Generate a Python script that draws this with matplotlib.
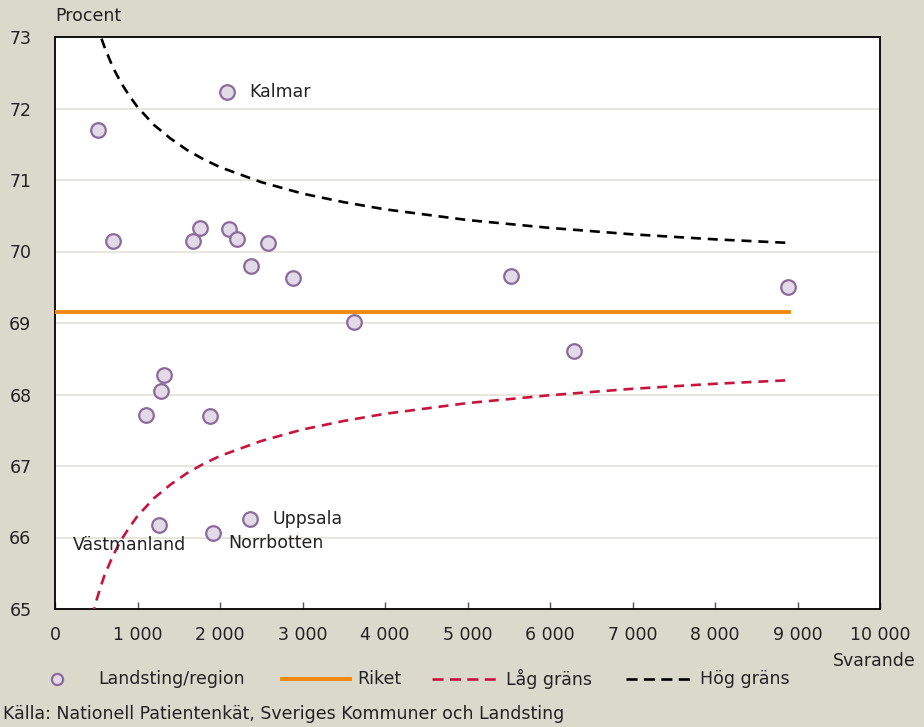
import matplotlib
matplotlib.use("Agg")
import matplotlib.pyplot as plt
from matplotlib.lines import Line2D

plt.rcParams['font.family'] = ['DejaVu Sans']

# Data: landsting/region points (Svarande, Procent)
svarande = [521, 703, 2085, 1103, 1285, 1321, 1261, 1673, 1758, 1879, 1915,
            2109, 2206, 2376, 2364, 2582, 2885, 3624, 5527, 6291, 8885]
procent = [71.70, 70.15, 72.23, 67.71, 68.05, 68.27, 66.18, 70.15, 70.33, 67.70, 66.06,
           70.31, 70.17, 69.80, 66.26, 70.12, 69.63, 69.01, 69.66, 68.61, 69.50]
names = ["", "", "Kalmar", "", "", "", "Västmanland", "", "", "", "Norrbotten",
         "", "", "", "Uppsala", "", "", "", "", "", ""]

riket_x = [0, 8900]
riket_y = [69.16, 69.16]

limit_n = [450, 500, 550, 600, 700, 800, 900, 1000, 1200, 1400, 1600, 1800, 2000,
           2500, 3000, 3500, 4000, 5000, 6000, 7000, 8000, 8900]
hog_grans = [73.43, 73.21, 73.02, 72.86, 72.58, 72.36, 72.18, 72.02, 71.77, 71.58,
             71.42, 71.29, 71.18, 70.97, 70.81, 70.69, 70.59, 70.44, 70.33, 70.24,
             70.17, 70.12]
lag_grans = [64.89, 65.11, 65.30, 65.47, 65.74, 65.96, 66.14, 66.30, 66.55, 66.74,
             66.90, 67.03, 67.14, 67.35, 67.51, 67.63, 67.73, 67.88, 67.99, 68.08,
             68.15, 68.20]

xticks = list(range(0, 10001, 1000))
xticklabels = ["0", "1 000", "2 000", "3 000", "4 000", "5 000", "6 000", "7 000",
               "8 000", "9 000", "10 000"]
yticks = list(range(65, 74))

BG = "#dbd8cc"
ORANGE = "#f0890f"
RED = "#c8143c"
MK_FACE = "#e2dae6"
MK_EDGE = "#8c6a9c"
TXT = "#222222"
FS = 12.5

fig = plt.figure(figsize=(9.24, 7.27), dpi=100, facecolor=BG)
ax = fig.add_axes([55/924, 1-609/727, 825/924, 572/727])
ax.set_facecolor("white")

ax.set_xlim(0, 10000)
ax.set_ylim(65, 73)
ax.set_yticks(yticks)
ax.set_xticks(xticks)
ax.set_xticklabels(xticklabels)
ax.grid(axis='y', color="#e6e3dc", linewidth=1.3, zorder=0)
ax.tick_params(axis='x', direction='in', length=5, width=1, color="#555555",
               labelsize=FS, labelcolor=TXT, pad=12)
ax.tick_params(axis='y', length=0, labelsize=FS, labelcolor=TXT, pad=17)
for s in ax.spines.values():
    s.set_linewidth(1.3)
    s.set_color("black")

lw = 1.9
dash = (3.8, 2.6)
ax.plot(limit_n, hog_grans, color="black", linewidth=lw, dashes=dash, zorder=3)
ax.plot(limit_n, lag_grans, color=RED, linewidth=lw, dashes=dash, zorder=3)
ax.plot(riket_x, riket_y, color=ORANGE, linewidth=2.8, zorder=3)
ax.plot(svarande, procent, linestyle='none', marker='o', markersize=10.5,
        markerfacecolor=MK_FACE, markeredgecolor=MK_EDGE, markeredgewidth=1.6, zorder=4)

offsets = {"Kalmar": (16, 0, 'left'), "Västmanland": (-21, -15, 'center'),
           "Norrbotten": (11, -7, 'left'), "Uppsala": (16, 0, 'left')}
for xv, yv, nm in zip(svarande, procent, names):
    if nm:
        dx, dy, ha = offsets[nm]
        ax.annotate(nm, (xv, yv), xytext=(dx, dy), textcoords='offset points',
                    ha=ha, va='center', fontsize=FS, color=TXT, zorder=5)

fig.text(55/924, 1-16/727, "Procent", fontsize=FS, color=TXT, ha='left', va='center')
fig.text(916/924, 1-661/727, "Svarande", fontsize=FS, color=TXT, ha='right', va='center')

# Legend
ly = 1-679/727
def fx(px):
    return px/924
fig.add_artist(Line2D([fx(57)], [ly], marker='o', markersize=8, markerfacecolor=MK_FACE,
                      markeredgecolor=MK_EDGE, markeredgewidth=1.6, linestyle='none'))
fig.text(fx(98), ly, "Landsting/region", fontsize=FS, color=TXT, va='center')
fig.add_artist(Line2D([fx(282), fx(350)], [ly, ly], color=ORANGE, linewidth=2.8))
fig.text(fx(357), ly, "Riket", fontsize=FS, color=TXT, va='center')
fig.add_artist(Line2D([fx(432), fx(496)], [ly, ly], color=RED, linewidth=lw, dashes=(4.2, 2.4)))
fig.text(fx(506), ly, "Låg gräns", fontsize=FS, color=TXT, va='center')
fig.add_artist(Line2D([fx(626), fx(690)], [ly, ly], color="black", linewidth=lw, dashes=(4.2, 2.4)))
fig.text(fx(700), ly, "Hög gräns", fontsize=FS, color=TXT, va='center')

fig.text(fx(3), 1-714/727, "Källa: Nationell Patientenkät, Sveriges Kommuner och Landsting",
         fontsize=FS, color=TXT, ha='left', va='center')

fig.savefig("out.png", dpi=100, facecolor=BG)
